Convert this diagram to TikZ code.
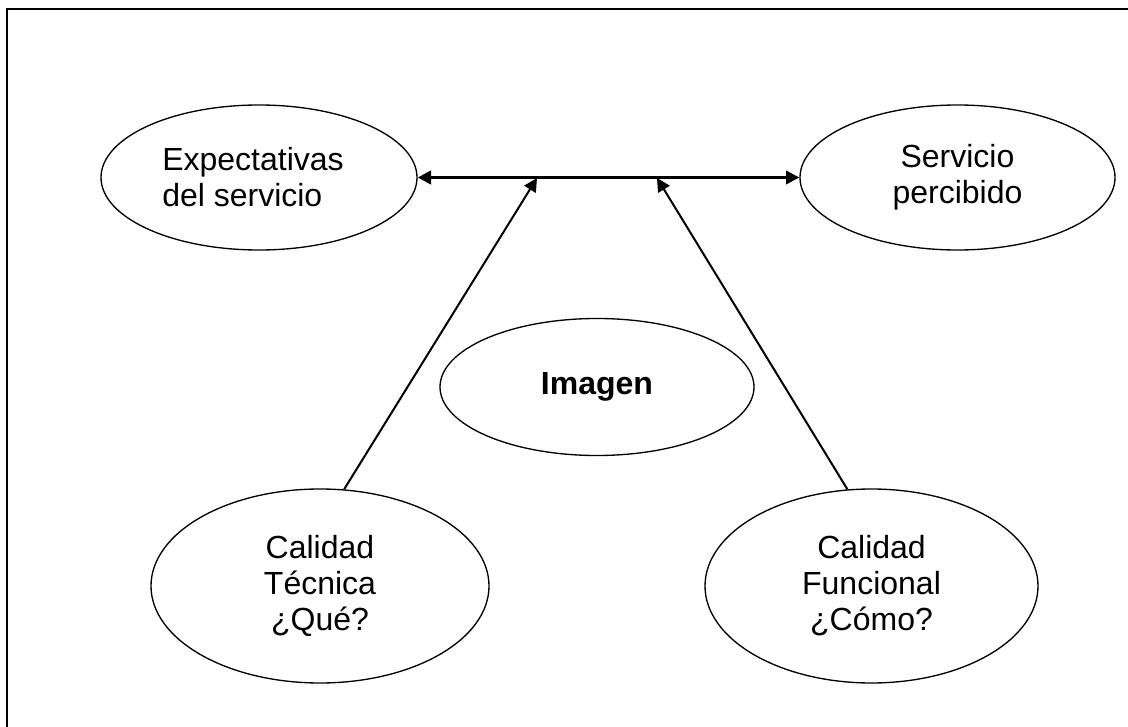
\documentclass[tikz,border=0pt]{standalone}
\usepackage{fontspec}
\setmainfont{Liberation Sans}
\usetikzlibrary{shapes.geometric,arrows.meta}
\begin{document}
\begin{tikzpicture}[x=0.75pt,y=-0.75pt,
  oval/.style={ellipse,draw,line width=1pt,inner sep=0pt,
    font=\fontsize{24}{27}\selectfont,align=center},
  link/.style={line width=1.5pt,-{Triangle[length=10pt,width=10pt]}},
  both/.style={line width=2.25pt,{Triangle[length=10pt,width=10pt]}-{Triangle[length=10pt,width=10pt]}},
]
\useasboundingbox (0,0) rectangle (1128,727);
% open frame: left and top edges only
\draw[line width=1.5pt,line join=miter] (7,727) -- (7,9) -- (1128,9);

\node[oval,align=left,minimum width=237pt,minimum height=108.75pt] (exp) at (259,177.5)
  {Expectativas\hspace*{9pt}\\del servicio};
\node[oval,minimum width=236.25pt,minimum height=108.75pt] (serv) at (957.5,177.5)
  {Servicio\\percibido};
\node[oval,minimum width=235.5pt,minimum height=102.75pt] (img) at (597,387)
  {\textbf{Imagen}};
\node[oval,minimum width=253.5pt,minimum height=145.5pt] (tec) at (320,586)
  {Calidad\\Técnica\\¿Qué?};
\node[oval,minimum width=249.75pt,minimum height=145.5pt] (fun) at (871.5,586)
  {Calidad\\Funcional\\¿Cómo?};

\coordinate (pl) at (537,178);
\coordinate (pr) at (657,178);

\draw[both] (exp.east) -- (serv.west);
\draw[link] (tec.76) -- (pl);
\draw[link] (fun.104) -- (pr);
\end{tikzpicture}
\end{document}
